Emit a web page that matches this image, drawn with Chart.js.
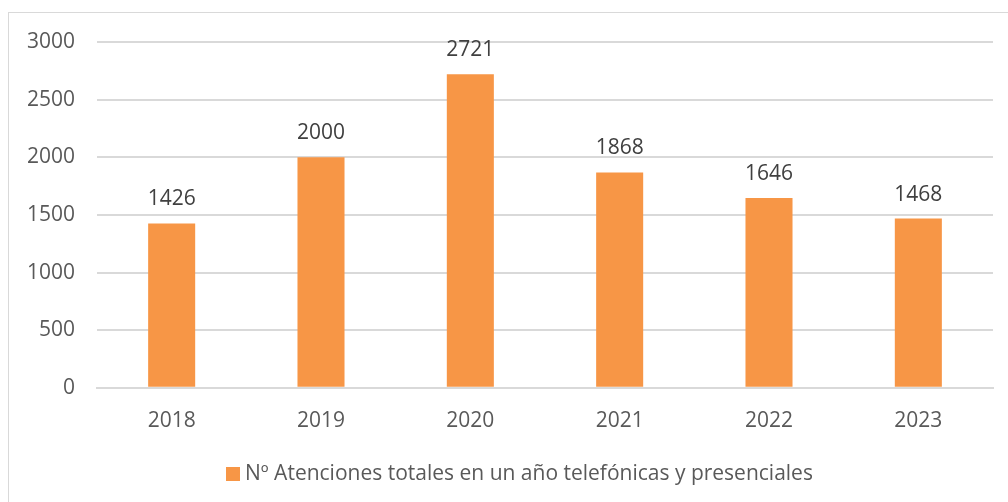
<!DOCTYPE html>
<html>
<head>
<meta charset="utf-8">
<script src="https://cdn.jsdelivr.net/npm/chart.js@4"></script>
<style>
  html, body { margin: 0; padding: 0; background: #fff; overflow: hidden; }
  #frame { position: absolute; left: 8px; top: 12px; width: 1100px; height: 600px; border: 1px solid #d9d9d9; }
  #wrap { position: absolute; left: 0; top: 0; width: 1008px; height: 502px; }
  #legend { position: absolute; left: 226px; top: 458px; font: 21px 'Open Sans', 'Liberation Sans', sans-serif; color: #595959; white-space: nowrap; line-height: 28px; }
  #legend span.box { display: inline-block; width: 14px; height: 14px; background: #F79646; margin-right: 5px; vertical-align: -1px; }
</style>
</head>
<body>
<div id="frame"></div>
<div id="wrap"><canvas id="chart"></canvas></div>
<div id="legend"></div>
<script>
const years = ['2018', '2019', '2020', '2021', '2022', '2023'];
const atenciones = [1426, 2000, 2721, 1868, 1646, 1468];
const yTicks = [0, 500, 1000, 1500, 2000, 2500, 3000];
const serieName = 'Nº Atenciones totales en un año telefónicas y presenciales';

const FONT = "'Open Sans', 'Liberation Sans', sans-serif";
const TEXT = '#595959';
const ORANGE = '#F79646';

// etiquetas de valor encima de cada barra
const valueLabels = {
    id: 'valueLabels',
    afterDatasetsDraw(chart) {
        const ctx = chart.ctx;
        const meta = chart.getDatasetMeta(0);
        ctx.save();
        ctx.font = '21px ' + FONT;
        ctx.fillStyle = '#404040';
        ctx.textAlign = 'center';
        ctx.textBaseline = 'alphabetic';
        meta.data.forEach((bar, i) => {
            ctx.fillText(String(atenciones[i]), bar.x, bar.y - 18);
        });
        ctx.restore();
    }
};

// leyenda en HTML (centrada como en el original, que está recortado a la derecha)
const legend = document.getElementById('legend');
legend.innerHTML = '<span class="box"></span>';
legend.appendChild(document.createTextNode(serieName));

new Chart(document.getElementById('chart'), {
    type: 'bar',
    data: {
        labels: years,
        datasets: [{
            label: serieName,
            data: atenciones,
            backgroundColor: ORANGE,
            categoryPercentage: 1,
            barPercentage: 0.315
        }]
    },
    options: {
        responsive: true,
        maintainAspectRatio: false,
        animation: false,
        layout: { padding: { top: 42, right: 15, left: 0, bottom: 55 } },
        scales: {
            y: {
                min: 0,
                max: 3000,
                afterBuildTicks: (s) => { s.ticks = yTicks.map(v => ({ value: v })); },
                afterFit: (s) => { s.width = 97; },
                border: { display: false },
                grid: { color: '#d9d9d9', lineWidth: 2, drawTicks: false },
                ticks: {
                    padding: 22, color: TEXT, font: { family: FONT, size: 21 },
                    callback: (v) => String(v)
                }
            },
            x: {
                border: { color: '#d9d9d9', width: 2 },
                grid: { display: false },
                ticks: { padding: 13, color: TEXT, font: { family: FONT, size: 21 } }
            }
        },
        plugins: {
            tooltip: { enabled: false },
            legend: { display: false }
        }
    },
    plugins: [valueLabels]
});
</script>
</body>
</html>
